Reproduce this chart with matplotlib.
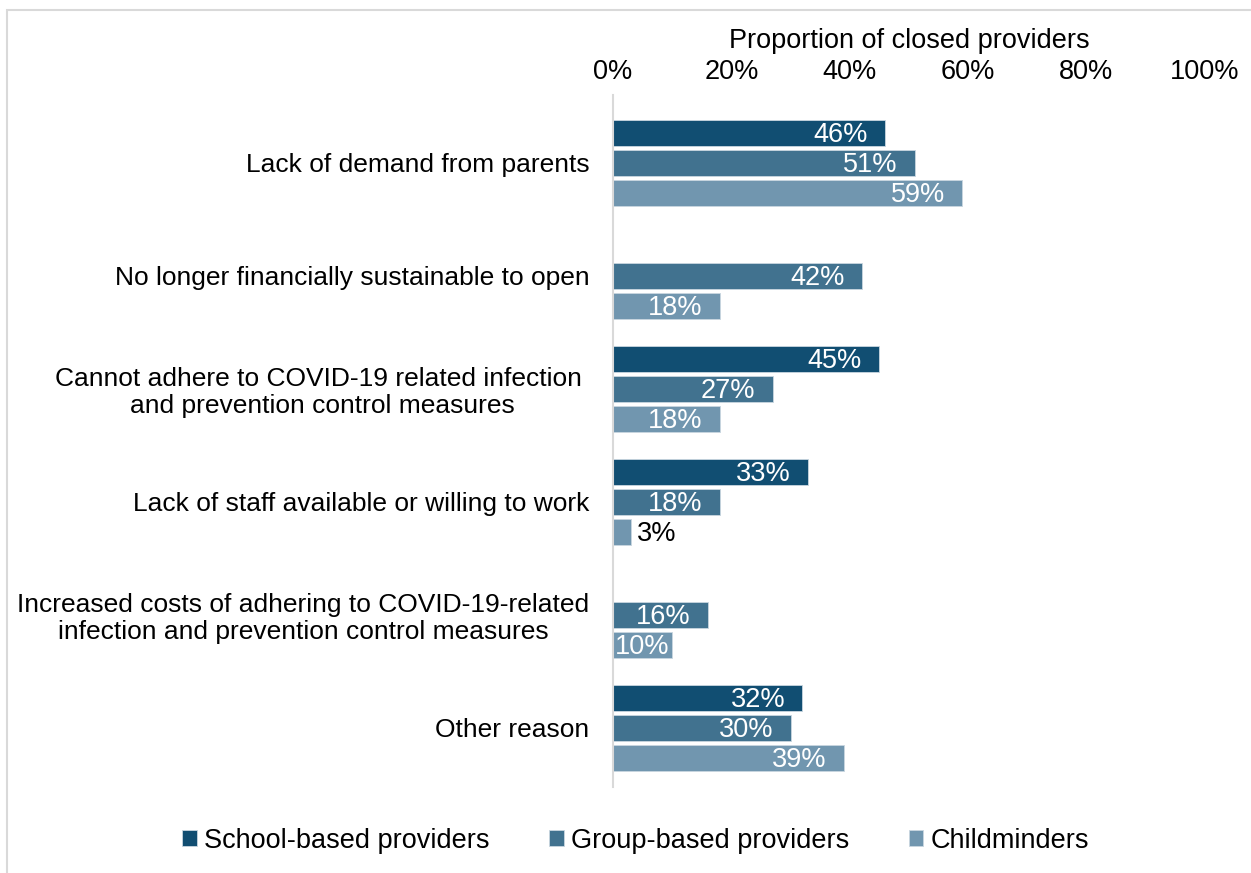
import numpy as np
import matplotlib.pyplot as plt
from matplotlib.patches import Rectangle

plt.rcParams['font.family'] = ['Liberation Sans', 'DejaVu Sans']

reasons = [
    'Lack of demand from parents',
    'No longer financially sustainable to open',
    'Cannot adhere to COVID-19 related infection \nand prevention control measures',
    'Lack of staff available or willing to work',
    'Increased costs of adhering to COVID-19-related\ninfection and prevention control measures',
    'Other reason',
]
series = ['School-based providers', 'Group-based providers', 'Childminders']
school = [46, None, 45, 33, None, 32]
group = [51, 42, 27, 18, 16, 30]
childminders = [59, 18, 18, 3, 10, 39]
colors = ['#114e72', '#41728f', '#7196af']
ticks = [0, 20, 40, 60, 80, 100]

fs = 19.5

fig = plt.figure(figsize=(12.51, 8.73), dpi=100)
ax = fig.add_axes([0.490, 0.098, 0.473, 0.793])

# light frame round the whole chart
fig.patches.append(Rectangle((7 / 1251, -0.01), 1.02, 1 - 10 / 873 + 0.01,
                             transform=fig.transFigure, fill=False,
                             edgecolor='#d9d9d9', linewidth=1.5))

offsets = [-0.265, 0.0, 0.265]
height = 0.23
for values, off, color, name in zip([school, group, childminders], offsets, colors, series):
    ys, xs = [], []
    for i, v in enumerate(values):
        if v is None:
            continue
        ys.append(i + off)
        xs.append(v)
    ax.barh(ys, xs, height=height, color=color, edgecolor='#c9d6e0',
            linewidth=0.6, label=name)
    for y, v in zip(ys, xs):
        if v < 5:
            ax.text(v + 1.0, y + 0.02, f'{v}%', va='center', ha='left',
                    fontsize=fs, color='black')
        elif v < 12:
            ax.text(v / 2, y + 0.02, f'{v}%', va='center', ha='center',
                    fontsize=fs, color='white')
        else:
            ax.text(v - 2.9, y + 0.02, f'{v}%', va='center', ha='right',
                    fontsize=fs, color='white')

ax.set_ylim(len(reasons) - 1 + 0.53, -0.6)
ax.set_yticks(range(len(reasons)))
ax.set_yticklabels(reasons, fontsize=19, linespacing=1.15,
                   multialignment='center')
ax.tick_params(axis='y', length=0, pad=17)

ax.set_xlim(0, 100)
ax.xaxis.tick_top()
ax.xaxis.set_label_position('top')
ax.set_xticks(ticks)
ax.set_xticklabels([f'{t}%' for t in ticks], fontsize=fs)
ax.tick_params(axis='x', length=0, pad=7)
ax.set_xlabel('Proportion of closed providers', fontsize=fs, labelpad=8)

for side in ['top', 'right', 'bottom']:
    ax.spines[side].set_visible(False)
ax.spines['left'].set_color('#d9d9d9')
ax.spines['left'].set_linewidth(1.5)

fig.legend(loc='lower center', bbox_to_anchor=(0.508, -0.006), ncol=3,
           frameon=False, fontsize=fs, handlelength=0.55, handleheight=0.55,
           handletextpad=0.25, columnspacing=2.2)

fig.savefig('out.png', dpi=100)
